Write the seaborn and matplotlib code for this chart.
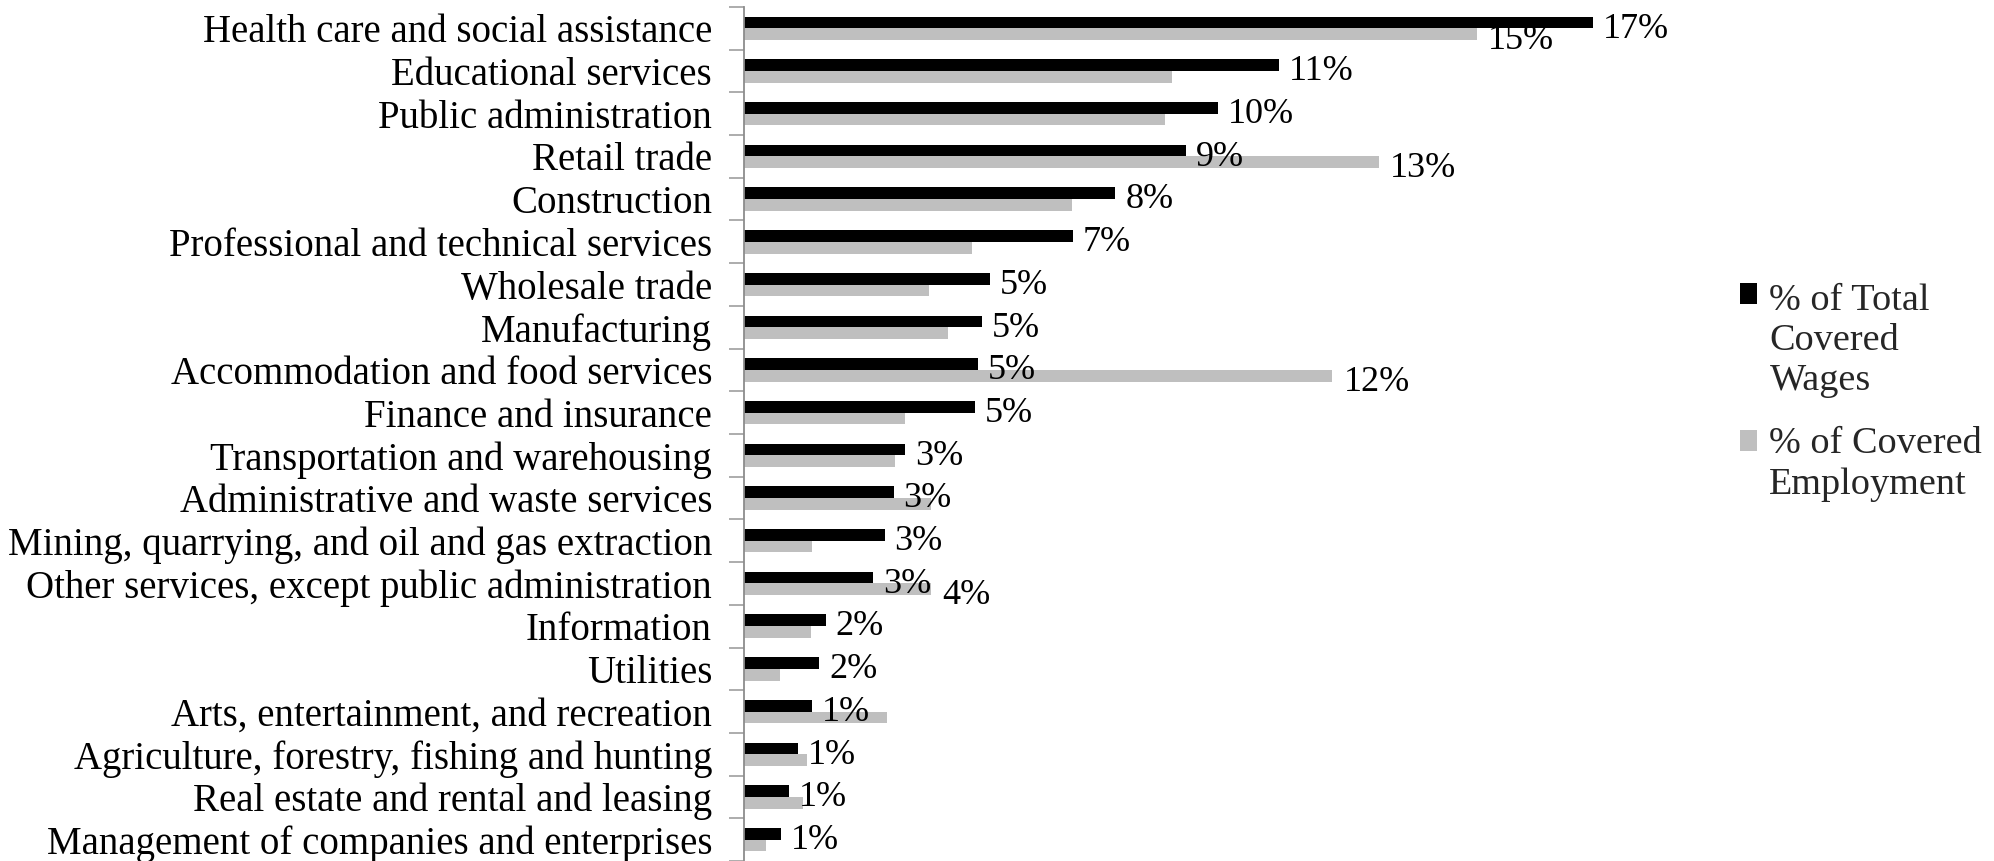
import numpy as np
import pandas as pd
import seaborn as sns
import matplotlib.pyplot as plt

industries = [
    "Health care and social assistance",
    "Educational services",
    "Public administration",
    "Retail trade",
    "Construction",
    "Professional and technical services",
    "Wholesale trade",
    "Manufacturing",
    "Accommodation and food services",
    "Finance and insurance",
    "Transportation and warehousing",
    "Administrative and waste services",
    "Mining, quarrying, and oil and gas extraction",
    "Other services, except public administration",
    "Information",
    "Utilities",
    "Arts, entertainment, and recreation",
    "Agriculture, forestry, fishing and hunting",
    "Real estate and rental and leasing",
    "Management of companies and enterprises",
]

# Share of total covered wages (%)
wages = [17.25, 10.87, 9.63, 8.99, 7.55, 6.69, 5.01, 4.83, 4.76, 4.70,
         3.28, 3.04, 2.86, 2.63, 1.66, 1.53, 1.39, 1.10, 0.92, 0.76]
# Share of covered employment (%)
employment = [14.89, 8.70, 8.56, 12.90, 6.67, 4.63, 3.75, 4.15, 11.96, 3.28,
              3.07, 3.81, 1.39, 3.80, 1.36, 0.74, 2.90, 1.29, 1.20, 0.45]
# Employment bars that carry a value label
employment_labeled = ["Health care and social assistance", "Retail trade",
                      "Accommodation and food services",
                      "Other services, except public administration"]

series_names = ["% of Total Covered Wages", "% of Covered Employment"]
legend_labels = ["% of Total\nCovered\nWages", "% of Covered\nEmployment"]
colors = ["#000000", "#bfbfbf"]

df = pd.DataFrame({
    "industry": industries * 2,
    "pct": wages + employment,
    "series": [series_names[0]] * len(industries) + [series_names[1]] * len(industries),
})

sns.set_theme(style="white")
plt.rcParams["font.family"] = ["Liberation Serif", "DejaVu Serif"]

fig = plt.figure(figsize=(19.94, 8.61), dpi=100)
px_per_pct = 49.2
xmax = 20
ax = fig.add_axes([744 / 1994, 0.0, xmax * px_per_pct / 1994, 854 / 861])

sns.barplot(data=df, x="pct", y="industry", hue="series", order=industries,
            hue_order=series_names, palette=colors, saturation=1,
            width=0.55, orient="h", linewidth=0, ax=ax)

ax.set_xlim(0, xmax)
ax.set_ylim(len(industries) - 0.5, -0.5)

# Value labels, set slightly below the bar centre line
wage_labels = [f"{v:.0f}%" for v in wages]
emp_labels = [f"{v:.0f}%" if ind in employment_labeled else ""
              for ind, v in zip(industries, employment)]
for container, labels, pad in [(ax.containers[0], wage_labels, 7),
                               (ax.containers[1], emp_labels, 8)]:
    texts = ax.bar_label(container, labels=labels, padding=pad, fontsize=26,
                         color="black")
    for t in texts:
        t.xyann = (pad, -4.8)

# Axes styling
for side in ["top", "right", "bottom"]:
    ax.spines[side].set_visible(False)
ax.spines["left"].set_color("#8c8c8c")
ax.spines["left"].set_linewidth(1.3)
ax.set_xticks([])
ax.set_xlabel("")
ax.set_ylabel("")
ax.set_yticks(np.arange(-0.5, len(industries), 1), minor=True)
ax.tick_params(axis="y", which="major", length=0, pad=23, labelsize=28,
               labelcolor="black")
ax.tick_params(axis="y", which="minor", left=True, length=11, width=1.3,
               color="#a6a6a6")

# Legend: multi-line entries with the swatch beside the first line
handles, _ = ax.get_legend_handles_labels()
leg = ax.legend(handles, legend_labels, loc="upper left",
                bbox_to_anchor=(1740 / 1994, 1 - 283 / 861),
                bbox_transform=fig.transFigure, frameon=False, fontsize=27.5,
                handlelength=0.45, handleheight=0.45, handletextpad=0.32,
                labelspacing=0.75, borderaxespad=0, borderpad=0)
line_step = 33.5  # points between label lines
for t in leg.get_texts():
    t.set_linespacing(1.22)
for h, label in zip(leg.legend_handles, legend_labels):
    n_lines = label.count("\n") + 1
    h.set_y(h.get_y() + line_step * (n_lines - 1) / 2)

fig.savefig("out.png", dpi=100)
